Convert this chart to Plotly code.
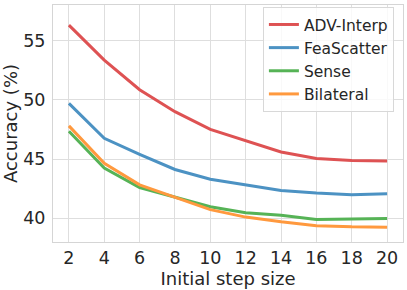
import plotly.graph_objects as go

steps = [2, 4, 6, 8, 10, 12, 14, 16, 18, 20]
adv_interp = [56.3, 53.35, 50.85, 49.0, 47.5, 46.55, 45.6, 45.05, 44.87, 44.83]
feascatter = [49.7, 46.75, 45.4, 44.12, 43.3, 42.8, 42.35, 42.13, 41.98, 42.08]
sense = [47.35, 44.25, 42.6, 41.8, 40.98, 40.47, 40.25, 39.9, 39.95, 39.98]
bilateral = [47.8, 44.65, 42.82, 41.78, 40.73, 40.1, 39.7, 39.38, 39.28, 39.25]
x_ticks = [2, 4, 6, 8, 10, 12, 14, 16, 18, 20]
y_ticks = [40, 45, 50, 55]

series = [
    ("ADV-Interp", adv_interp, "rgb(222,82,83)"),
    ("FeaScatter", feascatter, "rgb(76,146,195)"),
    ("Sense", sense, "rgb(86,179,86)"),
    ("Bilateral", bilateral, "rgb(255,153,62)"),
]

fig = go.Figure()
for name, vals, color in series:
    fig.add_trace(go.Scatter(x=steps, y=vals, mode="lines", name=name,
                             line=dict(color=color, width=3)))

font = "DejaVu Sans"
fig.update_layout(
    width=407, height=290,
    margin=dict(l=53, r=4, t=5, b=48),
    paper_bgcolor="white", plot_bgcolor="white",
    font=dict(family=font, size=17, color="#262626"),
    legend=dict(x=0.974, y=0.992, xanchor="right", yanchor="top",
                bgcolor="rgba(255,255,255,0.8)", bordercolor="#d8d8d8", borderwidth=1,
                font=dict(size=15.5, family=font, color="#262626"),
                itemwidth=30, tracegroupgap=0),
    xaxis=dict(range=[1.1, 20.9], tickmode="array", tickvals=x_ticks,
               showgrid=True, gridcolor="#dedede", gridwidth=1,
               showline=True, linecolor="#d5d5d5", linewidth=1, mirror=True,
               zeroline=False, ticks="", tickfont=dict(size=17.5),
               title=dict(text="Initial step size", font=dict(size=18), standoff=0)),
    yaxis=dict(range=[38, 58], tickmode="array", tickvals=y_ticks,
               showgrid=True, gridcolor="#dedede", gridwidth=1,
               showline=True, linecolor="#d5d5d5", linewidth=1, mirror=True,
               zeroline=False, ticks="", tickfont=dict(size=17.5),
               ticklabelstandoff=3,
               title=dict(text="Accuracy (%)", font=dict(size=18), standoff=2)),
)

fig.write_html("out.html", config={"displayModeBar": False},
               post_script="document.body.style.margin='0';document.body.style.overflow='hidden';")
